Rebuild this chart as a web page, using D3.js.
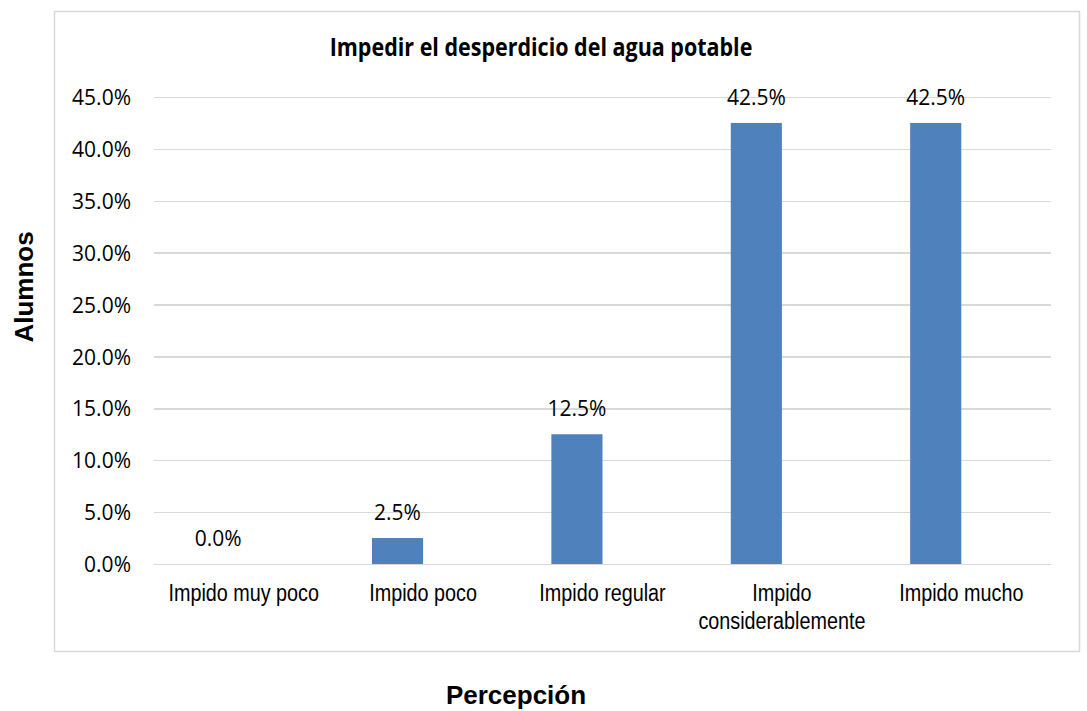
<!DOCTYPE html>
<html>
<head>
<meta charset="utf-8">
<script src="https://cdn.jsdelivr.net/npm/d3@7"></script>
<style>
  html, body { margin: 0; padding: 0; background: #fff; }
  svg { display: block; }
  .axis path { display: none; }
  .y.axis line { stroke: #d9d9d9; stroke-width: 1.5; shape-rendering: crispEdges; }
</style>
</head>
<body>
<svg id="chart" width="1087" height="711"></svg>
<script>
const title = 'Impedir el desperdicio del agua potable'
const categories = ['Impido muy poco', 'Impido poco', 'Impido regular', 'Impido considerablemente', 'Impido mucho']
const values = [0.0, 0.025, 0.125, 0.425, 0.425]
const yTicks = [0, 0.05, 0.10, 0.15, 0.20, 0.25, 0.30, 0.35, 0.40, 0.45]
const series = ['Alumnos', '']
const xTitle = 'Percepción'
const yTitle = 'Alumnos'

//

const svg = d3.select('#chart')
const plotLeft = 154
const plotRight = 1051
const plotTop = 97
const plotBottom = 564
const squeeze = 0.86

svg.append('rect')
  .attr('x', 54.5)
  .attr('y', 11.5)
  .attr('width', 1025)
  .attr('height', 640)
  .attr('fill', '#fff')
  .attr('stroke', '#d9d9d9')
  .attr('stroke-width', 1.5)

const x = d3.scaleBand()
  .domain(categories)
  .range([plotLeft, plotRight])
  .paddingInner(0.43)
  .paddingOuter(0.215)

const xs = d3.scaleBand()
  .domain(series)
  .range([0, x.bandwidth()])

const y = d3.scaleLinear()
  .domain([0, 0.45])
  .range([plotBottom, plotTop])

const yAxis = d3.axisLeft(y)
  .tickValues(yTicks)
  .tickFormat(d3.format('.1%'))
  .tickSize(-(plotRight - plotLeft))
  .tickPadding(23)

const gY = svg.append('g')
  .attr('class', 'y axis')
  .attr('transform', `translate(${plotLeft},0)`)
  .call(yAxis)

gY.selectAll('text')
  .attr('fill', '#000')
  .style('font-family', '"Open Sans", sans-serif')
  .style('font-size', '21px')
  .attr('dy', '0.36em')

const xAxis = d3.axisBottom(x).tickSize(0).tickPadding(0)

const gX = svg.append('g')
  .attr('class', 'x axis')
  .attr('transform', `translate(0,${plotBottom})`)
  .call(xAxis)

gX.selectAll('.tick text')
  .attr('fill', '#000')
  .attr('y', 37)
  .attr('dy', 0)
  .style('font-family', '"Liberation Sans", Arial, sans-serif')
  .style('font-size', '23px')
  .attr('transform', `scale(${squeeze},1)`)
  .each(function (d) { wrap(d3.select(this), x.step() - 8) })

function wrap (text, width) {
  const words = text.text().split(/\s+/)
  const yPos = +text.attr('y')
  text.text(null)
  let line = []
  let n = 0
  let tspan = text.append('tspan').attr('x', 0).attr('y', yPos)
  words.forEach((w) => {
    line.push(w)
    tspan.text(line.join(' '))
    if (tspan.node().getComputedTextLength() * squeeze > width && line.length > 1) {
      line.pop()
      tspan.text(line.join(' '))
      line = [w]
      n++
      tspan = text.append('tspan').attr('x', 0).attr('y', yPos + n * 28).text(w)
    }
  })
}

const bars = svg.append('g')
  .selectAll('g')
  .data(categories.map((c, i) => ({ cat: c, value: values[i] })))
  .join('g')
  .attr('transform', (d) => `translate(${x(d.cat)},0)`)

bars.append('rect')
  .attr('x', xs(series[0]))
  .attr('width', xs.bandwidth())
  .attr('y', (d) => y(d.value))
  .attr('height', (d) => y(0) - y(d.value))
  .attr('fill', '#4f81bd')

bars.append('text')
  .attr('x', xs(series[0]) + xs.bandwidth() / 2)
  .attr('y', (d) => y(d.value) - 18)
  .attr('text-anchor', 'middle')
  .attr('fill', '#000')
  .style('font-family', '"Open Sans", sans-serif')
  .style('font-size', '21px')
  .text((d) => d3.format('.1%')(d.value))

svg.append('text')
  .attr('transform', `translate(541,56) scale(${squeeze},1)`)
  .attr('text-anchor', 'middle')
  .attr('fill', '#000')
  .style('font-family', '"Open Sans", sans-serif')
  .style('font-weight', 'bold')
  .style('font-size', '25px')
  .text(title)

svg.append('text')
  .attr('x', 516)
  .attr('y', 704)
  .attr('text-anchor', 'middle')
  .attr('fill', '#000')
  .style('font-family', '"Liberation Sans", Arial, sans-serif')
  .style('font-weight', 'bold')
  .style('font-size', '26px')
  .text(xTitle)

svg.append('text')
  .attr('transform', 'translate(33,287) rotate(-90)')
  .attr('text-anchor', 'middle')
  .attr('fill', '#000')
  .style('font-family', '"Liberation Sans", Arial, sans-serif')
  .style('font-weight', 'bold')
  .style('font-size', '26px')
  .text(yTitle)
</script>
</body>
</html>
